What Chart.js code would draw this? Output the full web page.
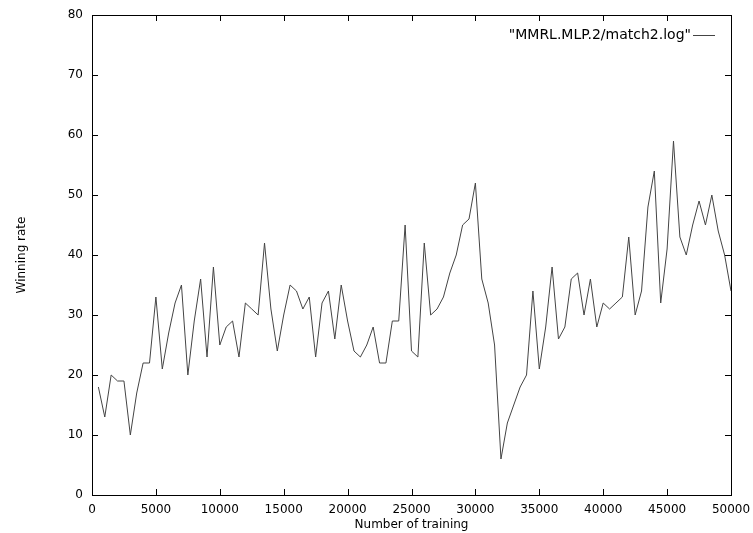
<!DOCTYPE html>
<html>
<head>
<meta charset="utf-8">
<script src="https://cdn.jsdelivr.net/npm/chart.js@4.4.1/dist/chart.umd.min.js"></script>
<style>
  html, body { margin: 0; padding: 0; background: #fff; }
  #wrap { width: 753px; height: 533px; }
</style>
</head>
<body>
<div id="wrap"><canvas id="chart" width="753" height="533"></canvas></div>
<script>
// training steps: 500, 1000, ... 50000
const steps = [];
for (let s = 500; s <= 50000; s += 500) steps.push(s);

// winning rate
const winRate = [
  18, 13, 20, 19, 19, 10, 17, 22, 22, 33,
  21, 27, 32, 35, 20, 29, 36, 23, 38, 25,
  28, 29, 23, 32, 31, 30, 42, 31, 24, 30,
  35, 34, 31, 33, 23, 32, 34, 26, 35, 29,
  24, 23, 25, 28, 22, 22, 29, 29, 45, 24,
  23, 42, 30, 31, 33, 37, 40, 45, 46, 52,
  36, 32, 25, 6, 12, 15, 18, 20, 34, 21,
  28, 38, 26, 28, 36, 37, 30, 36, 28, 32,
  31, 32, 33, 43, 30, 34, 48, 54, 32, 41,
  59, 43, 40, 45, 49, 45, 50, 44, 40, 34
];

const legendLabel = '"MMRL.MLP.2/match2.log"';
const xTitle = 'Number of training';
const yTitle = 'Winning rate';

const FONT = 'DejaVu Sans';

// gnuplot-like frame with inward ticks on all sides + legend in the corner
const framePlugin = {
  id: 'frame',
  afterDraw(chart) {
    const { ctx, chartArea: a, scales } = chart;
    ctx.save();
    ctx.strokeStyle = '#000';
    ctx.lineWidth = 1;
    ctx.strokeRect(Math.round(a.left) + 0.5, Math.round(a.top) + 0.5,
      Math.round(a.right - a.left), Math.round(a.bottom - a.top));
    const len = 6;
    ctx.beginPath();
    scales.x.ticks.forEach((t) => {
      const px = Math.round(scales.x.getPixelForValue(t.value)) + 0.5;
      ctx.moveTo(px, a.bottom); ctx.lineTo(px, a.bottom - len);
      ctx.moveTo(px, a.top); ctx.lineTo(px, a.top + len);
    });
    scales.y.ticks.forEach((t) => {
      const py = Math.round(scales.y.getPixelForValue(t.value)) + 0.5;
      ctx.moveTo(a.left, py); ctx.lineTo(a.left + len, py);
      ctx.moveTo(a.right, py); ctx.lineTo(a.right - len, py);
    });
    ctx.stroke();

    // legend
    const ly = a.top + 20;
    ctx.font = '14px "' + FONT + '"';
    ctx.fillStyle = '#000';
    ctx.textAlign = 'right';
    ctx.textBaseline = 'middle';
    ctx.fillText(legendLabel, a.right - 40, ly);
    ctx.strokeStyle = '#444';
    ctx.beginPath();
    ctx.moveTo(a.right - 38, ly + 0.5);
    ctx.lineTo(a.right - 16, ly + 0.5);
    ctx.stroke();
    ctx.restore();
  },
};

new Chart(document.getElementById('chart').getContext('2d'), {
  type: 'line',
  data: {
    labels: steps,
    datasets: [
      {
        label: legendLabel,
        data: steps.map((s, i) => ({ x: s, y: winRate[i] })),
        borderColor: '#444',
        borderWidth: 1,
        pointRadius: 0,
        tension: 0,
        fill: false,
      },
    ],
  },
  options: {
    responsive: false,
    animation: false,
    layout: { padding: { left: 0, right: 22, top: 15, bottom: 0 } },
    plugins: {
      legend: { display: false },
      tooltip: { enabled: false },
    },
    scales: {
      x: {
        type: 'linear',
        min: 0,
        max: 50000,
        ticks: {
          stepSize: 5000,
          color: '#000',
          font: { family: FONT, size: 12 },
          padding: 0,
          maxRotation: 0,
          callback: (v) => String(v),
        },
        grid: { display: false },
        border: { display: false },
        title: {
          display: true,
          text: xTitle,
          color: '#000',
          font: { family: FONT, size: 12 },
          padding: { top: 0, bottom: 1 },
        },
        afterFit: (scale) => { scale.height = 38; },
      },
      y: {
        min: 0,
        max: 80,
        ticks: {
          stepSize: 10,
          color: '#000',
          font: { family: FONT, size: 12 },
          padding: 1,
        },
        grid: { display: false },
        border: { display: false },
        title: {
          display: true,
          text: yTitle,
          color: '#000',
          font: { family: FONT, size: 12 },
          padding: { top: 15, bottom: 0 },
        },
        afterFit: (scale) => { scale.width = 92; },
      },
    },
  },
  plugins: [framePlugin],
});
</script>
</body>
</html>
